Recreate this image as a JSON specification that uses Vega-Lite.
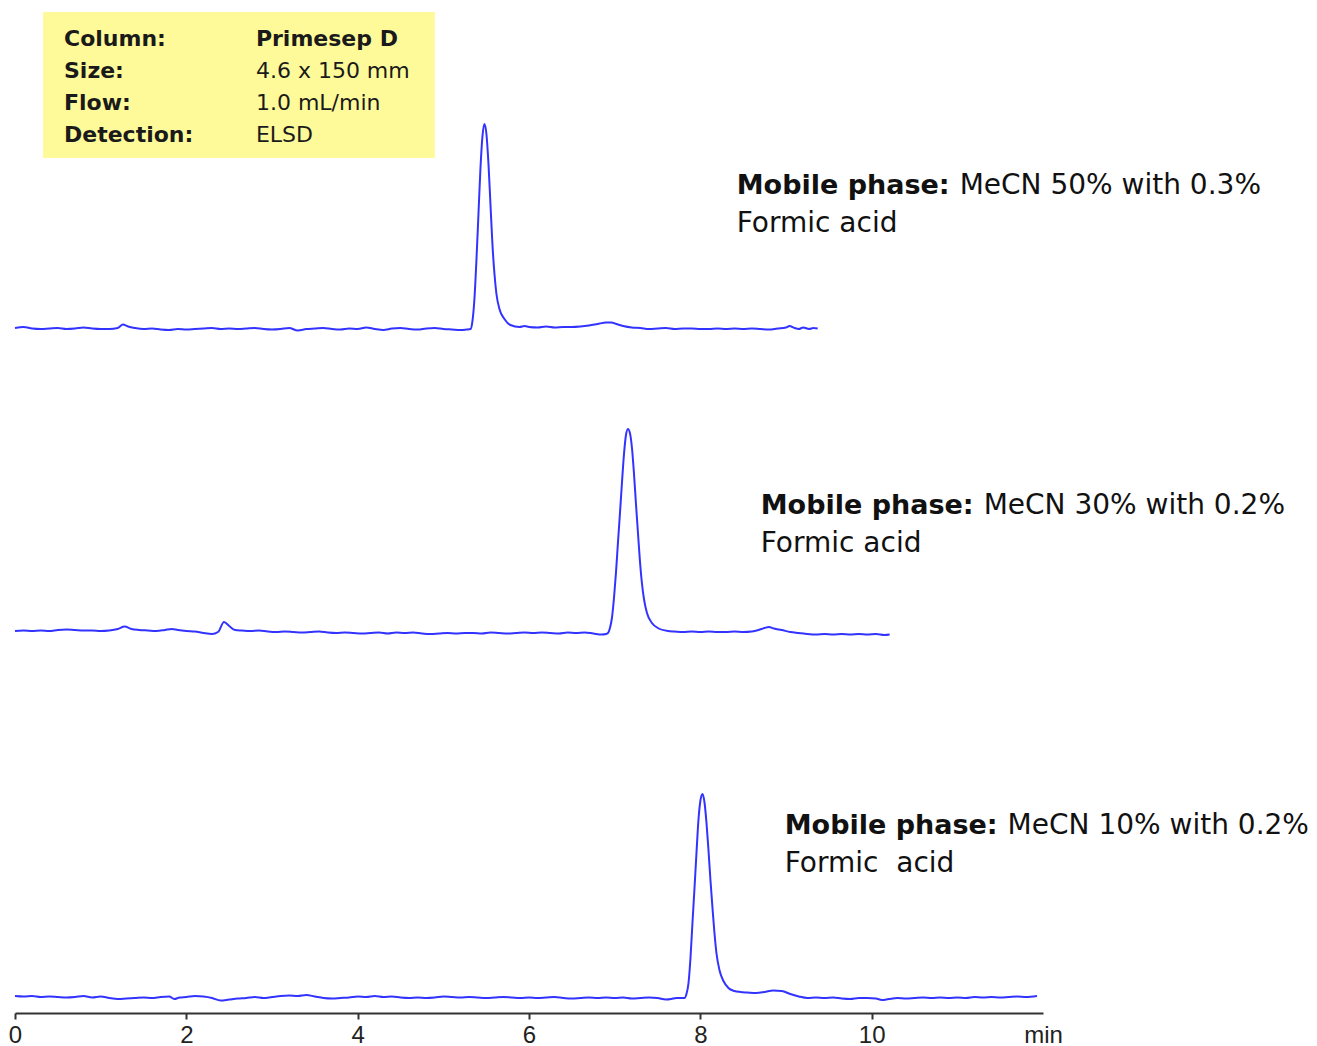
{
  "$schema": "https://vega.github.io/schema/vega-lite/v6.json",
  "width": 1028,
  "height": 1013,
  "autosize": {"type": "none"},
  "padding": {"left": 15, "top": 0, "right": 274, "bottom": 33},
  "background": "white",
  "config": {"view": {"stroke": null}},
  "datasets": {
    "r50": [
      {"t":0,"s":1},{"t":0.1,"s":2},{"t":0.2,"s":0.5},{"t":0.3,"s":0},{"t":0.4,"s":0.5},{"t":0.5,"s":1},{"t":0.6,"s":0},{"t":0.7,"s":0.5},{"t":0.8,"s":1.5},{"t":0.9,"s":0.5},
      {"t":1.0,"s":0},{"t":1.1,"s":0},{"t":1.2,"s":1},{"t":1.26,"s":4.5},{"t":1.32,"s":2.5},{"t":1.4,"s":1},{"t":1.5,"s":0},{"t":1.6,"s":0.5},{"t":1.7,"s":-0.5},{"t":1.8,"s":-1},{"t":1.9,"s":0},
      {"t":2.0,"s":-0.5},{"t":2.1,"s":0},{"t":2.2,"s":0.5},{"t":2.3,"s":1},{"t":2.4,"s":0},{"t":2.5,"s":0.5},{"t":2.6,"s":0},{"t":2.7,"s":0.5},{"t":2.8,"s":1},{"t":2.9,"s":0},
      {"t":3.0,"s":-0.5},{"t":3.1,"s":0},{"t":3.2,"s":1},{"t":3.3,"s":-1.5},{"t":3.4,"s":0},{"t":3.5,"s":0.5},{"t":3.6,"s":1},{"t":3.7,"s":0},{"t":3.8,"s":-0.5},{"t":3.9,"s":0.5},
      {"t":4.0,"s":0},{"t":4.1,"s":1.5},{"t":4.2,"s":0},{"t":4.3,"s":-1},{"t":4.4,"s":0.5},{"t":4.5,"s":1},{"t":4.6,"s":0},{"t":4.7,"s":-0.5},{"t":4.8,"s":0.5},{"t":4.9,"s":1},
      {"t":5.0,"s":0},{"t":5.1,"s":-0.5},{"t":5.2,"s":-1},{"t":5.27,"s":-0.5},
      {"t":5.317,"s":0},{"t":5.34,"s":8},{"t":5.363,"s":30},{"t":5.387,"s":70},{"t":5.41,"s":115},{"t":5.433,"s":160},{"t":5.457,"s":193},{"t":5.48,"s":205},{"t":5.503,"s":195},{"t":5.527,"s":165},{"t":5.55,"s":125},{"t":5.573,"s":85},{"t":5.597,"s":55},{"t":5.62,"s":35},{"t":5.655,"s":20},{"t":5.713,"s":10},{"t":5.783,"s":4},{"t":5.888,"s":2},
      {"t":5.95,"s":3},{"t":6.0,"s":2},{"t":6.1,"s":1.5},{"t":6.2,"s":2.5},{"t":6.3,"s":1.5},{"t":6.4,"s":2},{"t":6.5,"s":2},{"t":6.6,"s":2.5},{"t":6.7,"s":3.5},{"t":6.8,"s":5},{"t":6.9,"s":6.5},{"t":6.96,"s":6.5},{"t":7.02,"s":5},{"t":7.1,"s":3},{"t":7.2,"s":1.5},{"t":7.3,"s":1},{"t":7.4,"s":0},{"t":7.5,"s":0.5},{"t":7.6,"s":1},{"t":7.7,"s":0},{"t":7.8,"s":0.5},{"t":7.9,"s":0.5},
      {"t":8.0,"s":0},{"t":8.1,"s":0},{"t":8.2,"s":0.5},{"t":8.3,"s":0},{"t":8.4,"s":0.5},{"t":8.5,"s":0},{"t":8.6,"s":0.5},{"t":8.7,"s":0},{"t":8.8,"s":-0.5},{"t":8.9,"s":0.5},{"t":9.0,"s":1.5},{"t":9.04,"s":3},{"t":9.1,"s":1},{"t":9.15,"s":0},{"t":9.2,"s":1.5},{"t":9.27,"s":0},{"t":9.32,"s":1},{"t":9.37,"s":0.5}
    ],
    "r30": [
      {"t":0,"s":2},{"t":0.1,"s":2.5},{"t":0.2,"s":2},{"t":0.3,"s":2.5},{"t":0.4,"s":2},{"t":0.5,"s":3},{"t":0.6,"s":3.5},{"t":0.7,"s":3},{"t":0.8,"s":2.5},{"t":0.9,"s":2.5},
      {"t":1.0,"s":2},{"t":1.1,"s":2.5},{"t":1.2,"s":4},{"t":1.28,"s":6.5},{"t":1.36,"s":4},{"t":1.45,"s":3},{"t":1.55,"s":2.5},{"t":1.65,"s":2},{"t":1.75,"s":3},{"t":1.83,"s":4},{"t":1.9,"s":3},
      {"t":2.0,"s":2},{"t":2.1,"s":1.5},{"t":2.2,"s":0},{"t":2.3,"s":-1},{"t":2.37,"s":1},{"t":2.44,"s":11},{"t":2.5,"s":7},{"t":2.57,"s":3},{"t":2.65,"s":2.5},{"t":2.75,"s":2},{"t":2.85,"s":2.5},{"t":2.95,"s":1.5},
      {"t":3.05,"s":1},{"t":3.15,"s":1.5},{"t":3.25,"s":1},{"t":3.35,"s":0.5},{"t":3.45,"s":1},{"t":3.55,"s":1.5},{"t":3.65,"s":0.5},{"t":3.75,"s":0},{"t":3.85,"s":0.5},{"t":3.95,"s":0},
      {"t":4.05,"s":-0.5},{"t":4.15,"s":0},{"t":4.25,"s":0.5},{"t":4.35,"s":-0.5},{"t":4.45,"s":0.5},{"t":4.55,"s":0},{"t":4.65,"s":0.5},{"t":4.75,"s":-0.5},{"t":4.85,"s":-1},{"t":4.95,"s":-0.5},
      {"t":5.05,"s":0},{"t":5.15,"s":-0.5},{"t":5.25,"s":0},{"t":5.35,"s":0},{"t":5.45,"s":-0.5},{"t":5.55,"s":0.5},{"t":5.65,"s":0},{"t":5.75,"s":-0.5},{"t":5.85,"s":0},{"t":5.95,"s":0.5},
      {"t":6.05,"s":0},{"t":6.15,"s":0.5},{"t":6.25,"s":0},{"t":6.35,"s":-0.5},{"t":6.45,"s":0.5},{"t":6.55,"s":0},{"t":6.65,"s":0.5},{"t":6.75,"s":-0.5},{"t":6.85,"s":-1.5},{"t":6.9,"s":-1},
      {"t":6.922,"s":0},{"t":6.945,"s":5},{"t":6.968,"s":15},{"t":6.992,"s":35},{"t":7.015,"s":60},{"t":7.038,"s":90},{"t":7.062,"s":120},{"t":7.085,"s":150},{"t":7.108,"s":178},{"t":7.132,"s":198},{"t":7.155,"s":204},{"t":7.178,"s":200},{"t":7.202,"s":185},{"t":7.225,"s":160},{"t":7.248,"s":130},{"t":7.272,"s":100},{"t":7.295,"s":72},{"t":7.318,"s":50},{"t":7.342,"s":34},{"t":7.377,"s":20},{"t":7.435,"s":10},{"t":7.505,"s":5},{"t":7.622,"s":2},
      {"t":7.7,"s":1.5},{"t":7.8,"s":1},{"t":7.9,"s":1.5},{"t":8.0,"s":1},{"t":8.1,"s":1.5},{"t":8.2,"s":1},{"t":8.3,"s":1},{"t":8.4,"s":1.5},{"t":8.5,"s":1},{"t":8.6,"s":1.5},{"t":8.68,"s":3},{"t":8.75,"s":5},{"t":8.8,"s":6},{"t":8.86,"s":4.5},{"t":8.95,"s":3},
      {"t":9.05,"s":1},{"t":9.15,"s":0},{"t":9.25,"s":-1},{"t":9.35,"s":-1.5},{"t":9.45,"s":-1},{"t":9.55,"s":-1.5},{"t":9.65,"s":-1},{"t":9.75,"s":-1.5},{"t":9.85,"s":-1},{"t":9.95,"s":-1.5},{"t":10.05,"s":-1},{"t":10.15,"s":-2},{"t":10.21,"s":-1.5}
    ],
    "r10": [
      {"t":0,"s":2},{"t":0.1,"s":1.5},{"t":0.2,"s":2},{"t":0.3,"s":1},{"t":0.4,"s":1.5},{"t":0.5,"s":1},{"t":0.6,"s":0.5},{"t":0.7,"s":1},{"t":0.8,"s":2},{"t":0.9,"s":0.5},
      {"t":1.0,"s":1.5},{"t":1.1,"s":0},{"t":1.2,"s":-1},{"t":1.3,"s":-0.5},{"t":1.4,"s":0},{"t":1.5,"s":0.5},{"t":1.6,"s":0},{"t":1.7,"s":1},{"t":1.8,"s":1.5},{"t":1.86,"s":-1},{"t":1.92,"s":0.5},
      {"t":2.0,"s":1},{"t":2.1,"s":2},{"t":2.2,"s":1.5},{"t":2.3,"s":0},{"t":2.4,"s":-2.5},{"t":2.5,"s":-1.5},{"t":2.6,"s":-0.5},{"t":2.7,"s":0},{"t":2.8,"s":1},{"t":2.9,"s":0},
      {"t":3.0,"s":1},{"t":3.1,"s":2},{"t":3.2,"s":2.5},{"t":3.3,"s":2},{"t":3.4,"s":3},{"t":3.5,"s":1.5},{"t":3.6,"s":0},{"t":3.7,"s":-0.5},{"t":3.8,"s":0},{"t":3.9,"s":0.5},
      {"t":4.0,"s":1.5},{"t":4.1,"s":1},{"t":4.2,"s":2},{"t":4.3,"s":1},{"t":4.4,"s":1.5},{"t":4.5,"s":0.5},{"t":4.6,"s":0},{"t":4.7,"s":0.5},{"t":4.8,"s":0},{"t":4.9,"s":0.5},
      {"t":5.0,"s":1.5},{"t":5.1,"s":1},{"t":5.2,"s":0.5},{"t":5.3,"s":1},{"t":5.4,"s":0.5},{"t":5.5,"s":0},{"t":5.6,"s":0.5},{"t":5.7,"s":1},{"t":5.8,"s":0.5},{"t":5.9,"s":0},
      {"t":6.0,"s":0.5},{"t":6.1,"s":0},{"t":6.2,"s":0.5},{"t":6.3,"s":1},{"t":6.4,"s":0},{"t":6.5,"s":-0.5},{"t":6.6,"s":0},{"t":6.7,"s":0.5},{"t":6.8,"s":0},{"t":6.9,"s":0.5},
      {"t":7.0,"s":0},{"t":7.1,"s":0.5},{"t":7.2,"s":-0.5},{"t":7.3,"s":0},{"t":7.4,"s":0.5},{"t":7.5,"s":0},{"t":7.6,"s":-1.5},{"t":7.66,"s":-1},{"t":7.72,"s":0},{"t":7.78,"s":0},
      {"t":7.815,"s":0},{"t":7.838,"s":4},{"t":7.862,"s":15},{"t":7.885,"s":40},{"t":7.908,"s":75},{"t":7.932,"s":110},{"t":7.955,"s":145},{"t":7.978,"s":178},{"t":8.002,"s":198},{"t":8.025,"s":204},{"t":8.048,"s":196},{"t":8.072,"s":175},{"t":8.095,"s":148},{"t":8.118,"s":118},{"t":8.142,"s":90},{"t":8.165,"s":65},{"t":8.188,"s":45},{"t":8.223,"s":28},{"t":8.27,"s":17},{"t":8.328,"s":10},{"t":8.398,"s":7},{"t":8.468,"s":6},
      {"t":8.55,"s":5.5},{"t":8.65,"s":5},{"t":8.75,"s":6},{"t":8.85,"s":7.5},{"t":8.95,"s":7},{"t":9.05,"s":4},{"t":9.15,"s":1.5},{"t":9.25,"s":0},{"t":9.35,"s":0.5},{"t":9.45,"s":0},{"t":9.55,"s":0.5},{"t":9.65,"s":-0.5},{"t":9.75,"s":-1},{"t":9.85,"s":0},{"t":9.95,"s":0},
      {"t":10.05,"s":-0.5},{"t":10.12,"s":-2},{"t":10.2,"s":-1},{"t":10.3,"s":0},{"t":10.4,"s":-0.5},{"t":10.5,"s":0},{"t":10.6,"s":0.5},{"t":10.7,"s":0},{"t":10.8,"s":0.5},{"t":10.9,"s":0},
      {"t":11.0,"s":0.5},{"t":11.1,"s":0},{"t":11.2,"s":1},{"t":11.3,"s":0.5},{"t":11.4,"s":1},{"t":11.5,"s":0.5},{"t":11.6,"s":1},{"t":11.7,"s":1.5},{"t":11.8,"s":1},{"t":11.93,"s":2}
    ]
  },
  "resolve": {"scale": {"y": "independent"}, "axis": {"y": "independent"}},
  "layer": [
    {
      "layer": [
        {
          "data": {"values": [{}]},
          "mark": {"type": "rect", "color": "#FFFA99"},
          "encoding": {
            "x": {"datum": 0.327, "type": "quantitative"},
            "x2": {"datum": 4.901},
            "y": {"datum": 317, "type": "quantitative", "scale": {"domain": [-684, 329], "nice": false, "zero": false}, "axis": null},
            "y2": {"datum": 171}
          }
        },
        {
          "data": {"values": [{}]},
          "mark": {"type": "text", "font": "DejaVu Sans", "fontSize": 22, "fontWeight": "bold", "align": "left", "baseline": "alphabetic", "lineHeight": 32, "color": "#1a1a1a", "text": ["Column:", "Size:", "Flow:", "Detection:"]},
          "encoding": {
            "x": {"datum": 0.572, "type": "quantitative"},
            "y": {"datum": 283, "type": "quantitative", "scale": {"domain": [-684, 329], "nice": false, "zero": false}, "axis": null}
          }
        },
        {
          "data": {"values": [{}]},
          "mark": {"type": "text", "font": "DejaVu Sans", "fontSize": 22, "fontWeight": "bold", "align": "left", "baseline": "alphabetic", "color": "#1a1a1a", "text": "Primesep D"},
          "encoding": {
            "x": {"datum": 2.812, "type": "quantitative"},
            "y": {"datum": 283, "type": "quantitative", "scale": {"domain": [-684, 329], "nice": false, "zero": false}, "axis": null}
          }
        },
        {
          "data": {"values": [{}]},
          "mark": {"type": "text", "font": "DejaVu Sans", "fontSize": 22, "align": "left", "baseline": "alphabetic", "lineHeight": 32, "color": "#1a1a1a", "text": ["4.6 x 150 mm", "1.0 mL/min", "ELSD"]},
          "encoding": {
            "x": {"datum": 2.812, "type": "quantitative"},
            "y": {"datum": 251, "type": "quantitative", "scale": {"domain": [-684, 329], "nice": false, "zero": false}, "axis": null}
          }
        },
        {
          "data": {"name": "r50"},
          "mark": {"type": "line", "color": "#3333ff", "strokeWidth": 2, "interpolate": "monotone"},
          "encoding": {
            "x": {"field": "t", "type": "quantitative", "scale": {"domain": [0, 12], "nice": false, "zero": false},
              "axis": {"values": [0, 2, 4, 6, 8, 10], "format": "d", "grid": false, "domainColor": "#333333", "domainWidth": 2, "tickColor": "#333333", "tickWidth": 2, "tickSize": 6, "labelFont": "Liberation Sans", "labelFontSize": 24, "labelColor": "#222222", "labelPadding": 4, "labelFlush": false, "title": "min", "titleFont": "Liberation Sans", "titleFontSize": 24, "titleFontWeight": "normal", "titleColor": "#222222", "titleX": 1028, "titleY": 10, "titleAlign": "center", "titleBaseline": "top", "titleAngle": 0}},
            "y": {"field": "s", "type": "quantitative", "scale": {"domain": [-684, 329], "nice": false, "zero": false}, "axis": null}
          }
        },
        {
          "data": {"values": [{}]},
          "mark": {"type": "text", "font": "DejaVu Sans", "fontSize": 27, "fontWeight": "bold", "align": "left", "baseline": "alphabetic", "color": "#111111", "text": "Mobile phase:"},
          "encoding": {
            "x": {"datum": 8.425, "type": "quantitative"},
            "y": {"datum": 135, "type": "quantitative", "scale": {"domain": [-684, 329], "nice": false, "zero": false}, "axis": null}
          }
        },
        {
          "data": {"values": [{}]},
          "mark": {"type": "text", "font": "DejaVu Sans", "fontSize": 28, "align": "left", "baseline": "alphabetic", "color": "#111111", "text": "MeCN 50% with 0.3%"},
          "encoding": {
            "x": {"datum": 11.027, "type": "quantitative"},
            "y": {"datum": 135, "type": "quantitative", "scale": {"domain": [-684, 329], "nice": false, "zero": false}, "axis": null}
          }
        },
        {
          "data": {"values": [{}]},
          "mark": {"type": "text", "font": "DejaVu Sans", "fontSize": 28, "align": "left", "baseline": "alphabetic", "color": "#111111", "text": "Formic acid"},
          "encoding": {
            "x": {"datum": 8.425, "type": "quantitative"},
            "y": {"datum": 97, "type": "quantitative", "scale": {"domain": [-684, 329], "nice": false, "zero": false}, "axis": null}
          }
        }
      ]
    },
    {
      "layer": [
        {
          "data": {"name": "r30"},
          "mark": {"type": "line", "color": "#3333ff", "strokeWidth": 2, "interpolate": "monotone"},
          "encoding": {
            "x": {"field": "t", "type": "quantitative", "scale": {"domain": [0, 12], "nice": false, "zero": false},
              "axis": {"values": [0, 2, 4, 6, 8, 10], "format": "d", "grid": false, "domainColor": "#333333", "domainWidth": 2, "tickColor": "#333333", "tickWidth": 2, "tickSize": 6, "labelFont": "Liberation Sans", "labelFontSize": 24, "labelColor": "#222222", "labelPadding": 4, "labelFlush": false, "title": "min", "titleFont": "Liberation Sans", "titleFontSize": 24, "titleFontWeight": "normal", "titleColor": "#222222", "titleX": 1028, "titleY": 10, "titleAlign": "center", "titleBaseline": "top", "titleAngle": 0}},
            "y": {"field": "s", "type": "quantitative", "scale": {"domain": [-380, 633], "nice": false, "zero": false}, "axis": null}
          }
        },
        {
          "data": {"values": [{}]},
          "mark": {"type": "text", "font": "DejaVu Sans", "fontSize": 27, "fontWeight": "bold", "align": "left", "baseline": "alphabetic", "color": "#111111", "text": "Mobile phase:"},
          "encoding": {
            "x": {"datum": 8.705, "type": "quantitative"},
            "y": {"datum": 119, "type": "quantitative", "scale": {"domain": [-380, 633], "nice": false, "zero": false}, "axis": null}
          }
        },
        {
          "data": {"values": [{}]},
          "mark": {"type": "text", "font": "DejaVu Sans", "fontSize": 28, "align": "left", "baseline": "alphabetic", "color": "#111111", "text": "MeCN 30% with 0.2%"},
          "encoding": {
            "x": {"datum": 11.307, "type": "quantitative"},
            "y": {"datum": 119, "type": "quantitative", "scale": {"domain": [-380, 633], "nice": false, "zero": false}, "axis": null}
          }
        },
        {
          "data": {"values": [{}]},
          "mark": {"type": "text", "font": "DejaVu Sans", "fontSize": 28, "align": "left", "baseline": "alphabetic", "color": "#111111", "text": "Formic acid"},
          "encoding": {
            "x": {"datum": 8.705, "type": "quantitative"},
            "y": {"datum": 81, "type": "quantitative", "scale": {"domain": [-380, 633], "nice": false, "zero": false}, "axis": null}
          }
        }
      ]
    },
    {
      "layer": [
        {
          "data": {"name": "r10"},
          "mark": {"type": "line", "color": "#3333ff", "strokeWidth": 2, "interpolate": "monotone"},
          "encoding": {
            "x": {"field": "t", "type": "quantitative", "scale": {"domain": [0, 12], "nice": false, "zero": false},
              "axis": {"values": [0, 2, 4, 6, 8, 10], "format": "d", "grid": false, "domainColor": "#333333", "domainWidth": 2, "tickColor": "#333333", "tickWidth": 2, "tickSize": 6, "labelFont": "Liberation Sans", "labelFontSize": 24, "labelColor": "#222222", "labelPadding": 4, "labelFlush": false, "title": "min", "titleFont": "Liberation Sans", "titleFontSize": 24, "titleFontWeight": "normal", "titleColor": "#222222", "titleX": 1028, "titleY": 10, "titleAlign": "center", "titleBaseline": "top", "titleAngle": 0}},
            "y": {"field": "s", "type": "quantitative", "scale": {"domain": [-15, 998], "nice": false, "zero": false}, "axis": null}
          }
        },
        {
          "data": {"values": [{}]},
          "mark": {"type": "text", "font": "DejaVu Sans", "fontSize": 27, "fontWeight": "bold", "align": "left", "baseline": "alphabetic", "color": "#111111", "text": "Mobile phase:"},
          "encoding": {
            "x": {"datum": 8.985, "type": "quantitative"},
            "y": {"datum": 164, "type": "quantitative", "scale": {"domain": [-15, 998], "nice": false, "zero": false}, "axis": null}
          }
        },
        {
          "data": {"values": [{}]},
          "mark": {"type": "text", "font": "DejaVu Sans", "fontSize": 28, "align": "left", "baseline": "alphabetic", "color": "#111111", "text": "MeCN 10% with 0.2%"},
          "encoding": {
            "x": {"datum": 11.587, "type": "quantitative"},
            "y": {"datum": 164, "type": "quantitative", "scale": {"domain": [-15, 998], "nice": false, "zero": false}, "axis": null}
          }
        },
        {
          "data": {"values": [{}]},
          "mark": {"type": "text", "font": "DejaVu Sans", "fontSize": 28, "align": "left", "baseline": "alphabetic", "color": "#111111", "text": "Formic\u00a0 acid"},
          "encoding": {
            "x": {"datum": 8.985, "type": "quantitative"},
            "y": {"datum": 126, "type": "quantitative", "scale": {"domain": [-15, 998], "nice": false, "zero": false}, "axis": null}
          }
        }
      ]
    }
  ]
}
